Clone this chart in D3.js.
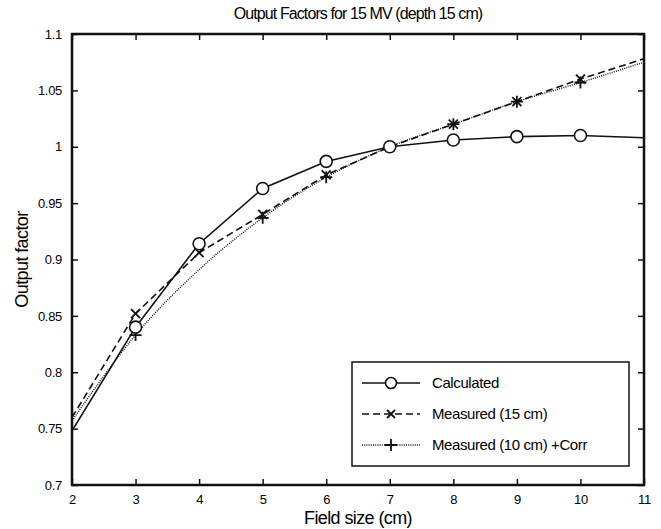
<!DOCTYPE html>
<html>
<head>
<meta charset="utf-8">
<script src="https://cdn.jsdelivr.net/npm/d3@7"></script>
<style>
  body { margin: 0; background: #fff; }
  text { font-family: "Liberation Sans", Arial, sans-serif; fill: #000; }
</style>
</head>
<body>
<div id="chart"></div>
<script>
// data
var fieldSizes = [2, 3, 4, 5, 6, 7, 8, 9, 10, 11];
var calculated = [0.748, 0.840, 0.914, 0.963, 0.987, 1.000, 1.006, 1.009, 1.010, 1.008];
var measured15 = [0.760, 0.852, 0.906, 0.940, 0.975, 1.000, 1.020, 1.040, 1.060, 1.078];
var measured10 = [0.757, 0.833, 0.891, 0.937, 0.973, 1.000, 1.020, 1.040, 1.057, 1.075];
// which sizes carry a marker
var calcMarks = [3, 4, 5, 6, 7, 8, 9, 10];
var m15Marks = [3, 4, 5, 6, 7, 8, 9, 10];
var m10Marks = [3, 5, 6, 7, 8, 9, 10];
var xTicks = [2, 3, 4, 5, 6, 7, 8, 9, 10, 11];
var yTicks = [0.7, 0.75, 0.8, 0.85, 0.9, 0.95, 1, 1.05, 1.1];
var legendLabels = ["Calculated", "Measured (15 cm)", "Measured (10 cm) +Corr"];

var W = 661, H = 529;
var padL = 72, padR = 644, padT = 34, padB = 485;

var svg = d3.select("#chart").append("svg")
    .attr("width", W)
    .attr("height", H);
svg.append("rect").attr("width", W).attr("height", H).attr("fill", "#fff");

var x = d3.scaleLinear().domain([2, 11]).range([padL, padR]);
var y = d3.scaleLinear().domain([0.7, 1.1]).range([padB, padT]);
var fmt = d3.format("~g");

svg.append("defs").append("clipPath").attr("id", "plotclip")
    .append("rect")
    .attr("x", padL).attr("y", padT)
    .attr("width", padR - padL).attr("height", padB - padT);

function series(vals) {
    return fieldSizes.map(function(f, i) { return { f: f, v: vals[i] }; });
}
function pick(vals, marks) {
    return series(vals).filter(function(d) { return marks.indexOf(d.f) >= 0; });
}

var line = d3.line()
    .x(function(d) { return x(d.f); })
    .y(function(d) { return y(d.v); });

var plot = svg.append("g").attr("clip-path", "url(#plotclip)");

// dotted: measured 10 cm + corr
plot.append("path")
    .datum(series(measured10))
    .attr("d", line.curve(d3.curveMonotoneX))
    .attr("fill", "none")
    .attr("stroke", "#111")
    .attr("stroke-width", 1.4)
    .attr("stroke-dasharray", "1,1.2");
line.curve(d3.curveLinear);

// dashed: measured 15 cm
plot.append("path")
    .datum(series(measured15))
    .attr("d", line)
    .attr("fill", "none")
    .attr("stroke", "#111")
    .attr("stroke-width", 1.6)
    .attr("stroke-dasharray", "7,4");

// solid: calculated
plot.append("path")
    .datum(series(calculated))
    .attr("d", line)
    .attr("fill", "none")
    .attr("stroke", "#111")
    .attr("stroke-width", 1.6);

function plusPath(cx, cy, r) {
    return "M" + (cx - r) + "," + cy + "H" + (cx + r) + "M" + cx + "," + (cy - r) + "V" + (cy + r);
}
function crossPath(cx, cy, r) {
    return "M" + (cx - r) + "," + (cy - r) + "L" + (cx + r) + "," + (cy + r) +
        "M" + (cx - r) + "," + (cy + r) + "L" + (cx + r) + "," + (cy - r);
}

plot.selectAll(".plus")
    .data(pick(measured10, m10Marks))
    .enter().append("path")
    .attr("class", "plus")
    .attr("d", function(d) { return plusPath(x(d.f), y(d.v), 6); })
    .attr("stroke", "#111")
    .attr("stroke-width", 1.8);

plot.selectAll(".cross")
    .data(pick(measured15, m15Marks))
    .enter().append("path")
    .attr("class", "cross")
    .attr("d", function(d) { return crossPath(x(d.f), y(d.v), 4.5); })
    .attr("stroke", "#111")
    .attr("stroke-width", 1.8);

plot.selectAll(".circ")
    .data(pick(calculated, calcMarks))
    .enter().append("circle")
    .attr("class", "circ")
    .attr("cx", function(d) { return x(d.f); })
    .attr("cy", function(d) { return y(d.v); })
    .attr("r", 6)
    .attr("fill", "#fff")
    .attr("stroke", "#111")
    .attr("stroke-width", 1.6);

// axes with inward ticks on all four sides
var tickLen = 6;
var xAxisB = d3.axisBottom(x).tickValues(xTicks).tickSizeInner(-tickLen).tickSizeOuter(0).tickPadding(10).tickFormat(fmt);
var xAxisT = d3.axisTop(x).tickValues(xTicks).tickSizeInner(-tickLen).tickSizeOuter(0).tickFormat("");
var yAxisL = d3.axisLeft(y).tickValues(yTicks).tickSizeInner(-tickLen).tickSizeOuter(0).tickPadding(10).tickFormat(fmt);
var yAxisR = d3.axisRight(y).tickValues(yTicks).tickSizeInner(-tickLen).tickSizeOuter(0).tickFormat("");

function styleAxis(g) {
    g.select(".domain").remove();
    g.selectAll(".tick line").attr("stroke", "#111").attr("stroke-width", 1.5);
    g.selectAll(".tick text").attr("font-size", 13).attr("fill", "#000")
        .attr("letter-spacing", "-0.3px")
        .attr("font-family", "Liberation Sans, Arial, sans-serif");
}

svg.append("g").attr("transform", "translate(0," + padB + ")").call(xAxisB).call(styleAxis);
svg.append("g").attr("transform", "translate(0," + padT + ")").call(xAxisT).call(styleAxis);
svg.append("g").attr("transform", "translate(" + padL + ",0)").call(yAxisL).call(styleAxis);
svg.append("g").attr("transform", "translate(" + padR + ",0)").call(yAxisR).call(styleAxis);

svg.append("rect")
    .attr("x", padL).attr("y", padT)
    .attr("width", padR - padL).attr("height", padB - padT)
    .attr("fill", "none")
    .attr("stroke", "#111")
    .attr("stroke-width", 2.5);

// title and labels
svg.append("text")
    .attr("x", (padL + padR) / 2).attr("y", 19)
    .attr("text-anchor", "middle")
    .attr("font-size", 16)
    .attr("letter-spacing", "-0.9px")
    .text("Output Factors for 15 MV (depth 15 cm)");

svg.append("text")
    .attr("x", (padL + padR) / 2).attr("y", 524)
    .attr("text-anchor", "middle")
    .attr("font-size", 18)
    .attr("letter-spacing", "-0.6px")
    .text("Field size (cm)");

svg.append("text")
    .attr("transform", "translate(28," + ((padT + padB) / 2) + ") rotate(-90)")
    .attr("text-anchor", "middle")
    .attr("font-size", 18)
    .attr("letter-spacing", "-0.6px")
    .text("Output factor");

// legend
var lg = svg.append("g").attr("transform", "translate(352,362)");
lg.append("rect")
    .attr("width", 277).attr("height", 104)
    .attr("fill", "#fff")
    .attr("stroke", "#111")
    .attr("stroke-width", 1.5);

var rowY = [21, 52, 83];
var styles = [
    { dash: null, w: 1.6, mark: "circle" },
    { dash: "7,4", w: 1.6, mark: "cross" },
    { dash: "1,1.2", w: 1.4, mark: "plus" }
];
legendLabels.forEach(function(lbl, i) {
    var r = lg.append("g").attr("transform", "translate(0," + rowY[i] + ")");
    r.append("line")
        .attr("x1", 10).attr("x2", 68)
        .attr("stroke", "#111")
        .attr("stroke-width", styles[i].w)
        .attr("stroke-dasharray", styles[i].dash);
    if (styles[i].mark === "circle") {
        r.append("circle").attr("cx", 39).attr("r", 5.5)
            .attr("fill", "#fff").attr("stroke", "#111").attr("stroke-width", 1.6);
    } else if (styles[i].mark === "cross") {
        r.append("path").attr("d", crossPath(39, 0, 4)).attr("stroke", "#111").attr("stroke-width", 1.8);
    } else {
        r.append("path").attr("d", plusPath(39, 0, 6)).attr("stroke", "#111").attr("stroke-width", 1.8);
    }
    r.append("text")
        .attr("x", 80).attr("y", 5)
        .attr("font-size", 15)
        .attr("letter-spacing", "-0.4px")
        .text(lbl);
});
</script>
</body>
</html>
